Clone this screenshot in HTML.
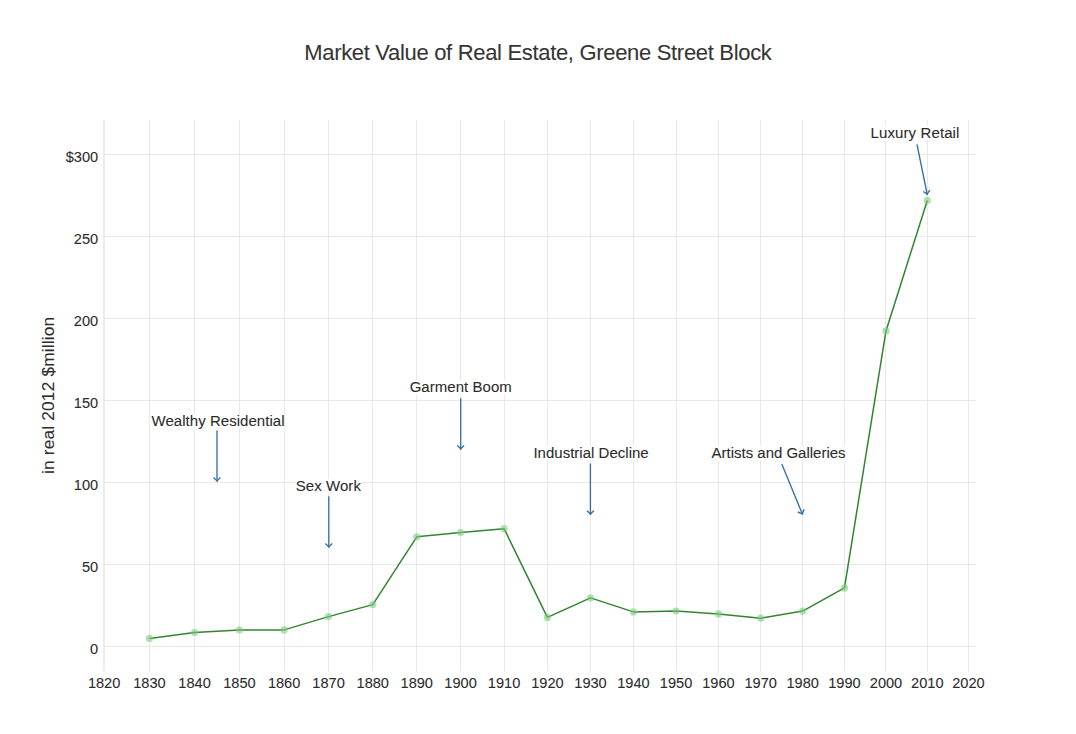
<!DOCTYPE html>
<html><head><meta charset="utf-8"><style>
html,body{margin:0;padding:0;background:#fff;}
body{width:1076px;height:734px;overflow:hidden;}
svg{display:block;}
text{font-family:"Liberation Sans", sans-serif;fill:#2c2c2c;stroke:#2c2c2c;stroke-width:0.08px;}
</style></head><body>
<svg width="1076" height="734" viewBox="0 0 1076 734">
<rect x="0" y="0" width="1076" height="734" fill="#fff"/>
<line x1="104.00" y1="120.0" x2="104.00" y2="671.6" stroke="#e8e8e8" stroke-width="1.6"/>
<line x1="149.50" y1="120.0" x2="149.50" y2="671.6" stroke="#e8e8e8" stroke-width="1"/>
<line x1="194.50" y1="120.0" x2="194.50" y2="671.6" stroke="#e8e8e8" stroke-width="1"/>
<line x1="239.50" y1="120.0" x2="239.50" y2="671.6" stroke="#e8e8e8" stroke-width="1"/>
<line x1="284.50" y1="120.0" x2="284.50" y2="671.6" stroke="#e8e8e8" stroke-width="1"/>
<line x1="328.50" y1="120.0" x2="328.50" y2="671.6" stroke="#e8e8e8" stroke-width="1"/>
<line x1="372.50" y1="120.0" x2="372.50" y2="671.6" stroke="#e8e8e8" stroke-width="1"/>
<line x1="416.50" y1="120.0" x2="416.50" y2="671.6" stroke="#e8e8e8" stroke-width="1"/>
<line x1="460.50" y1="120.0" x2="460.50" y2="671.6" stroke="#e8e8e8" stroke-width="1"/>
<line x1="504.50" y1="120.0" x2="504.50" y2="671.6" stroke="#e8e8e8" stroke-width="1"/>
<line x1="547.50" y1="120.0" x2="547.50" y2="671.6" stroke="#e8e8e8" stroke-width="1"/>
<line x1="590.50" y1="120.0" x2="590.50" y2="671.6" stroke="#e8e8e8" stroke-width="1"/>
<line x1="633.50" y1="120.0" x2="633.50" y2="671.6" stroke="#e8e8e8" stroke-width="1"/>
<line x1="676.50" y1="120.0" x2="676.50" y2="671.6" stroke="#e8e8e8" stroke-width="1"/>
<line x1="718.50" y1="120.0" x2="718.50" y2="671.6" stroke="#e8e8e8" stroke-width="1"/>
<line x1="760.50" y1="120.0" x2="760.50" y2="671.6" stroke="#e8e8e8" stroke-width="1"/>
<line x1="802.50" y1="120.0" x2="802.50" y2="671.6" stroke="#e8e8e8" stroke-width="1"/>
<line x1="844.50" y1="120.0" x2="844.50" y2="671.6" stroke="#e8e8e8" stroke-width="1"/>
<line x1="885.50" y1="120.0" x2="885.50" y2="671.6" stroke="#e8e8e8" stroke-width="1"/>
<line x1="927.50" y1="120.0" x2="927.50" y2="671.6" stroke="#e8e8e8" stroke-width="1"/>
<line x1="968.50" y1="120.0" x2="968.50" y2="671.6" stroke="#e8e8e8" stroke-width="1"/>
<line x1="103.3" y1="646.50" x2="975.8" y2="646.50" stroke="#e8e8e8" stroke-width="1"/>
<line x1="103.3" y1="564.50" x2="975.8" y2="564.50" stroke="#e8e8e8" stroke-width="1"/>
<line x1="103.3" y1="482.50" x2="975.8" y2="482.50" stroke="#e8e8e8" stroke-width="1"/>
<line x1="103.3" y1="400.50" x2="975.8" y2="400.50" stroke="#e8e8e8" stroke-width="1"/>
<line x1="103.3" y1="318.50" x2="975.8" y2="318.50" stroke="#e8e8e8" stroke-width="1"/>
<line x1="103.3" y1="236.50" x2="975.8" y2="236.50" stroke="#e8e8e8" stroke-width="1"/>
<line x1="103.3" y1="154.50" x2="975.8" y2="154.50" stroke="#e8e8e8" stroke-width="1"/>
<text transform="translate(104.12,688.00) scale(1,1.06)" font-size="14.6" text-anchor="middle">1820</text>
<text transform="translate(149.45,688.00) scale(1,1.06)" font-size="14.6" text-anchor="middle">1830</text>
<text transform="translate(194.56,688.00) scale(1,1.06)" font-size="14.6" text-anchor="middle">1840</text>
<text transform="translate(239.44,688.00) scale(1,1.06)" font-size="14.6" text-anchor="middle">1850</text>
<text transform="translate(284.11,688.00) scale(1,1.06)" font-size="14.6" text-anchor="middle">1860</text>
<text transform="translate(328.55,688.00) scale(1,1.06)" font-size="14.6" text-anchor="middle">1870</text>
<text transform="translate(372.76,688.00) scale(1,1.06)" font-size="14.6" text-anchor="middle">1880</text>
<text transform="translate(416.76,688.00) scale(1,1.06)" font-size="14.6" text-anchor="middle">1890</text>
<text transform="translate(460.53,688.00) scale(1,1.06)" font-size="14.6" text-anchor="middle">1900</text>
<text transform="translate(504.08,688.00) scale(1,1.06)" font-size="14.6" text-anchor="middle">1910</text>
<text transform="translate(547.40,688.00) scale(1,1.06)" font-size="14.6" text-anchor="middle">1920</text>
<text transform="translate(590.51,688.00) scale(1,1.06)" font-size="14.6" text-anchor="middle">1930</text>
<text transform="translate(633.39,688.00) scale(1,1.06)" font-size="14.6" text-anchor="middle">1940</text>
<text transform="translate(676.04,688.00) scale(1,1.06)" font-size="14.6" text-anchor="middle">1950</text>
<text transform="translate(718.48,688.00) scale(1,1.06)" font-size="14.6" text-anchor="middle">1960</text>
<text transform="translate(760.69,688.00) scale(1,1.06)" font-size="14.6" text-anchor="middle">1970</text>
<text transform="translate(802.68,688.00) scale(1,1.06)" font-size="14.6" text-anchor="middle">1980</text>
<text transform="translate(844.45,688.00) scale(1,1.06)" font-size="14.6" text-anchor="middle">1990</text>
<text transform="translate(885.99,688.00) scale(1,1.06)" font-size="14.6" text-anchor="middle">2000</text>
<text transform="translate(927.31,688.00) scale(1,1.06)" font-size="14.6" text-anchor="middle">2010</text>
<text transform="translate(968.41,688.00) scale(1,1.06)" font-size="14.6" text-anchor="middle">2020</text>
<text transform="translate(98.20,653.80) scale(1,1.06)" font-size="14.6" text-anchor="end">0</text>
<text transform="translate(98.20,571.80) scale(1,1.06)" font-size="14.6" text-anchor="end">50</text>
<text transform="translate(98.20,489.80) scale(1,1.06)" font-size="14.6" text-anchor="end">100</text>
<text transform="translate(98.20,407.80) scale(1,1.06)" font-size="14.6" text-anchor="end">150</text>
<text transform="translate(98.20,325.80) scale(1,1.06)" font-size="14.6" text-anchor="end">200</text>
<text transform="translate(98.20,243.80) scale(1,1.06)" font-size="14.6" text-anchor="end">250</text>
<text transform="translate(98.20,161.80) scale(1,1.06)" font-size="14.6" text-anchor="end">$300</text>
<text transform="translate(304.20,59.70) scale(1,1.04)" font-size="22" textLength="467.62" lengthAdjust="spacing" style="fill:#353535;stroke:#353535">Market Value of Real Estate, Greene Street Block</text>
<text transform="translate(53.7,395.4) rotate(-90)" font-size="17.3" text-anchor="middle" textLength="157.25" lengthAdjust="spacing">in real 2012 $million</text>
<polyline points="149.45,638.40 194.56,632.50 239.44,630.00 284.11,629.90 328.55,616.60 372.76,604.60 416.76,536.80 460.53,532.50 504.08,528.70 547.40,617.40 590.51,597.90 633.39,611.90 676.04,611.00 718.48,613.90 760.69,618.20 802.68,611.10 844.45,587.90 885.99,330.90 927.31,200.40" fill="none" stroke="#318531" stroke-width="1.5" stroke-linejoin="round"/>
<circle cx="149.45" cy="638.40" r="3.6" fill="#7ccc7c" fill-opacity="0.6"/>
<circle cx="194.56" cy="632.50" r="3.6" fill="#7ccc7c" fill-opacity="0.6"/>
<circle cx="239.44" cy="630.00" r="3.6" fill="#7ccc7c" fill-opacity="0.6"/>
<circle cx="284.11" cy="629.90" r="3.6" fill="#7ccc7c" fill-opacity="0.6"/>
<circle cx="328.55" cy="616.60" r="3.6" fill="#7ccc7c" fill-opacity="0.6"/>
<circle cx="372.76" cy="604.60" r="3.6" fill="#7ccc7c" fill-opacity="0.6"/>
<circle cx="416.76" cy="536.80" r="3.6" fill="#7ccc7c" fill-opacity="0.6"/>
<circle cx="460.53" cy="532.50" r="3.6" fill="#7ccc7c" fill-opacity="0.6"/>
<circle cx="504.08" cy="528.70" r="3.6" fill="#7ccc7c" fill-opacity="0.6"/>
<circle cx="547.40" cy="617.40" r="3.6" fill="#7ccc7c" fill-opacity="0.6"/>
<circle cx="590.51" cy="597.90" r="3.6" fill="#7ccc7c" fill-opacity="0.6"/>
<circle cx="633.39" cy="611.90" r="3.6" fill="#7ccc7c" fill-opacity="0.6"/>
<circle cx="676.04" cy="611.00" r="3.6" fill="#7ccc7c" fill-opacity="0.6"/>
<circle cx="718.48" cy="613.90" r="3.6" fill="#7ccc7c" fill-opacity="0.6"/>
<circle cx="760.69" cy="618.20" r="3.6" fill="#7ccc7c" fill-opacity="0.6"/>
<circle cx="802.68" cy="611.10" r="3.6" fill="#7ccc7c" fill-opacity="0.6"/>
<circle cx="844.45" cy="587.90" r="3.6" fill="#7ccc7c" fill-opacity="0.6"/>
<circle cx="885.99" cy="330.90" r="3.6" fill="#7ccc7c" fill-opacity="0.6"/>
<circle cx="927.31" cy="200.40" r="3.6" fill="#7ccc7c" fill-opacity="0.6"/>
<rect x="151.1" y="414.0" width="132.9" height="14.5" fill="#fff"/>
<text transform="translate(151.54,426.00) scale(1,1.035)" font-size="15.0" textLength="132.94" lengthAdjust="spacing">Wealthy Residential</text>
<line x1="217.0" y1="430.5" x2="217.0" y2="481.8" stroke="#3470a6" stroke-width="1.35"/>
<polyline points="213.55,477.57 217.00,480.90 220.45,477.57" fill="none" stroke="#3470a6" stroke-width="1.35" stroke-linejoin="miter" stroke-miterlimit="2"/>
<rect x="296.0" y="478.8" width="65.4" height="14.5" fill="#fff"/>
<text transform="translate(295.81,490.80) scale(1,1.035)" font-size="15.0" textLength="65.09" lengthAdjust="spacing">Sex Work</text>
<line x1="328.8" y1="496.3" x2="328.8" y2="547.8" stroke="#3470a6" stroke-width="1.35"/>
<polyline points="325.35,543.57 328.80,546.90 332.25,543.57" fill="none" stroke="#3470a6" stroke-width="1.35" stroke-linejoin="miter" stroke-miterlimit="2"/>
<rect x="409.9" y="379.8" width="101.5" height="14.5" fill="#fff"/>
<text transform="translate(409.65,391.80) scale(1,1.035)" font-size="15.0" textLength="102.21" lengthAdjust="spacing">Garment Boom</text>
<line x1="460.7" y1="398.2" x2="460.7" y2="449.7" stroke="#3470a6" stroke-width="1.35"/>
<polyline points="457.25,445.47 460.70,448.80 464.15,445.47" fill="none" stroke="#3470a6" stroke-width="1.35" stroke-linejoin="miter" stroke-miterlimit="2"/>
<rect x="534.3" y="445.8" width="114.2" height="14.5" fill="#fff"/>
<text transform="translate(533.42,457.80) scale(1,1.035)" font-size="15.0" textLength="115.25" lengthAdjust="spacing">Industrial Decline</text>
<line x1="590.4" y1="463.6" x2="590.4" y2="515.0" stroke="#3470a6" stroke-width="1.35"/>
<polyline points="586.95,510.77 590.40,514.10 593.85,510.77" fill="none" stroke="#3470a6" stroke-width="1.35" stroke-linejoin="miter" stroke-miterlimit="2"/>
<rect x="711.1" y="446.0" width="134.4" height="14.5" fill="#fff"/>
<text transform="translate(711.57,458.00) scale(1,1.035)" font-size="15.0" textLength="133.97" lengthAdjust="spacing">Artists and Galleries</text>
<line x1="781.8" y1="464.0" x2="802.6" y2="514.6" stroke="#3470a6" stroke-width="1.35"/>
<polyline points="797.80,512.00 802.26,513.77 804.18,509.37" fill="none" stroke="#3470a6" stroke-width="1.35" stroke-linejoin="miter" stroke-miterlimit="2"/>
<rect x="871.3" y="125.7" width="87.6" height="14.5" fill="#fff"/>
<text transform="translate(870.57,137.70) scale(1,1.035)" font-size="15.0" textLength="88.82" lengthAdjust="spacing">Luxury Retail</text>
<line x1="917.0" y1="144.3" x2="927.3" y2="195.0" stroke="#3470a6" stroke-width="1.35"/>
<polyline points="923.07,191.54 927.12,194.12 929.84,190.16" fill="none" stroke="#3470a6" stroke-width="1.35" stroke-linejoin="miter" stroke-miterlimit="2"/>
</svg></body></html>
